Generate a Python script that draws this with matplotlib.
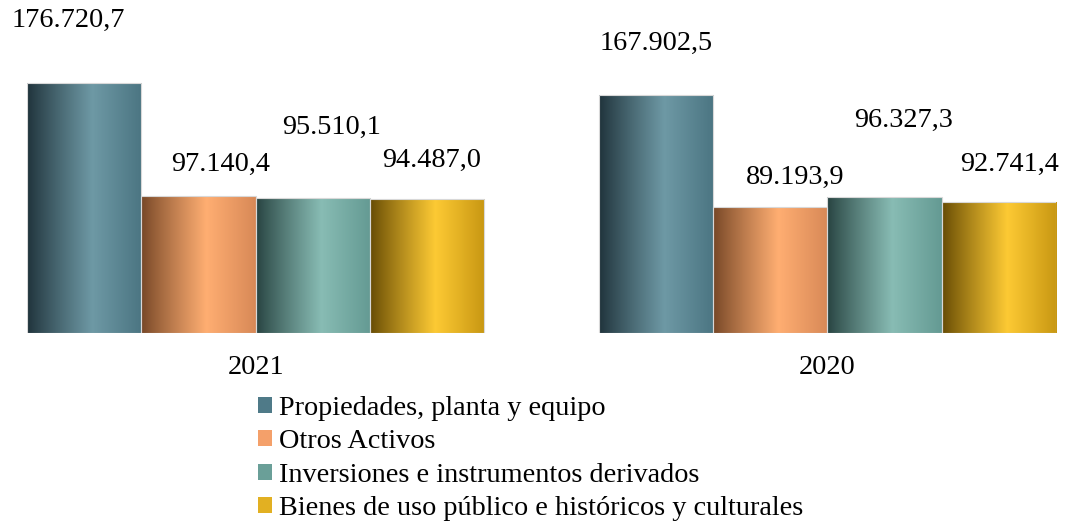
import numpy as np
import matplotlib
matplotlib.use("Agg")
import matplotlib.pyplot as plt
from matplotlib.patches import Patch
from matplotlib.colors import to_rgb

plt.rcParams['font.family'] = ['Liberation Serif', 'DejaVu Serif']

years = ["2021", "2020"]
series = ["Propiedades, planta y equipo", "Otros Activos",
          "Inversiones e instrumentos derivados",
          "Bienes de uso público e históricos y culturales"]
values = {
    "2021": [176720.7, 97140.4, 95510.1, 94487.0],
    "2020": [167902.5, 89193.9, 96327.3, 92741.4],
}
labels = {
    "2021": ["176.720,7", "97.140,4", "95.510,1", "94.487,0"],
    "2020": ["167.902,5", "89.193,9", "96.327,3", "92.741,4"],
}

# style: gradient stops per series (dark, light, end) and legend colour
grad = [("#1f323a", "#6e99a5", "#4b7582"),
        ("#754626", "#ffae72", "#d88957"),
        ("#274240", "#88bcb4", "#649a93"),
        ("#654a04", "#fdca34", "#c89712")]
legend_cols = ["#4f7a88", "#f4a06a", "#6a9f98", "#e2b022"]
# label offsets in pixels (dx, dy) from bar top-centre
label_off = {
    "2021": [(-16, 63), (22, 31), (19, 70), (4, 39)],
    "2020": [(0, 52), (25, 29), (19, 76), (11, 37)],
}
FS = 20.3

W, H = 1065, 522
fig = plt.figure(figsize=(W / 100, H / 100), dpi=100)
ax_left, ax_right = 27 / W, 1056 / W
ax_bottom = (H - 333) / H
ax_top = (H - 5) / H
ax = fig.add_axes([ax_left, ax_bottom, ax_right - ax_left, ax_top - ax_bottom])

maxv = max(values["2021"][0], 1)
ymax = maxv * (333 - 5) / (333 - 83)

bw = 0.2
N = 256
xs = np.linspace(0, 1, N)

def gradient_img(stops):
    c0, c1, c2 = [np.array(to_rgb(c)) for c in stops]
    img = np.zeros((1, N, 3))
    for i, t in enumerate(xs):
        if t < 0.57:
            u = (t / 0.57) ** 0.9
            img[0, i] = c0 + (c1 - c0) * u
        else:
            u = (t - 0.57) / 0.43
            img[0, i] = c1 + (c2 - c1) * u
    return img

for gi, yr in enumerate(years):
    for si in range(4):
        x = gi - 0.4 + bw * si + bw / 2
        v = values[yr][si]
        bar = ax.bar(x, v, width=bw, color="none", edgecolor="#d8d8d8",
                     linewidth=0.8, zorder=3)[0]
        im = ax.imshow(gradient_img(grad[si]), extent=[x - bw / 2, x + bw / 2, 0, v],
                       aspect="auto", zorder=2, interpolation="bilinear")
        im.set_clip_path(bar)
        dx, dy = label_off[yr][si]
        ax.annotate(labels[yr][si], (x, v), xytext=(dx, dy), textcoords="offset pixels",
                    ha="center", va="center", fontsize=FS, color="#000000")

ax.set_xticks([0, 1])
ax.set_xticklabels(years, fontsize=FS)
ax.tick_params(axis="x", length=0, pad=16)
ax.set_yticks([])
for s in ax.spines.values():
    s.set_visible(False)
ax.set_ylim(0, ymax)
ax.set_xlim(-0.4, 1.4)

handles = [Patch(facecolor=c, edgecolor="none") for c in legend_cols]
fig.legend(handles, series, loc="upper left", bbox_to_anchor=(258 / W, 1 - 396 / H),
           frameon=False, fontsize=FS, handlelength=0.5, handleheight=0.5,
           handletextpad=0.25, labelspacing=0.3, borderpad=0, borderaxespad=0)

fig.savefig("out.png", dpi=100)
